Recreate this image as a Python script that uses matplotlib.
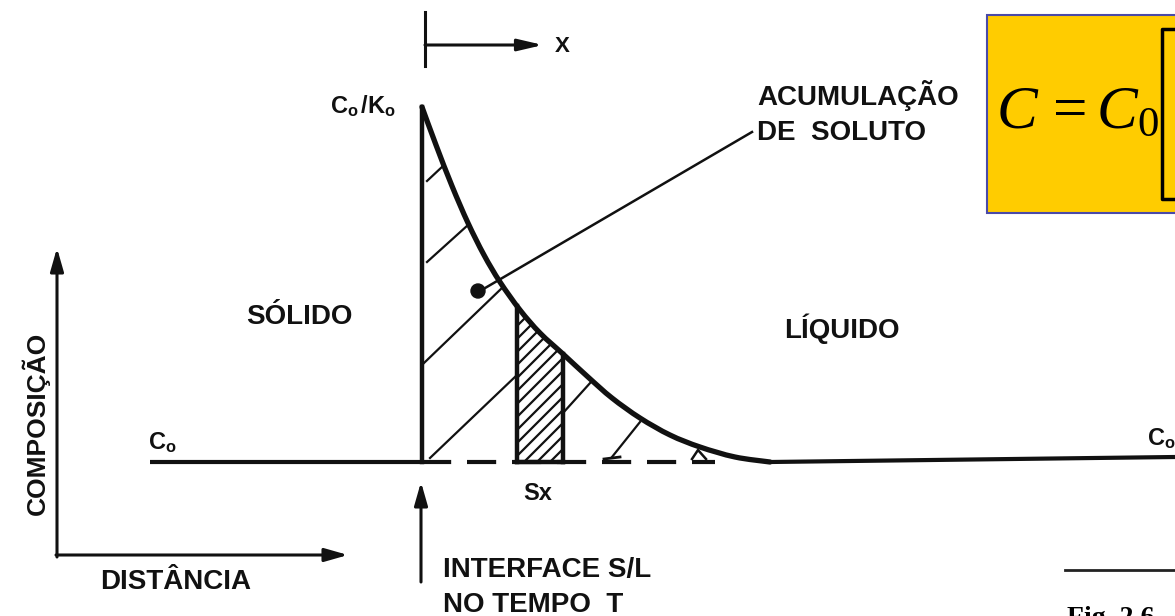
import numpy as np
import matplotlib.pyplot as plt
from matplotlib.patches import Rectangle, Polygon, Circle, PathPatch
from matplotlib.path import Path

plt.rcParams['mathtext.fontset'] = 'custom'
plt.rcParams['mathtext.it'] = 'Liberation Serif:italic'
plt.rcParams['mathtext.rm'] = 'Liberation Serif'
plt.rcParams['mathtext.bf'] = 'Liberation Sans:bold'

# solute profile ahead of the interface (distance, composition), y grows downward
profile_x = [422, 436, 452, 468, 484, 500, 520, 540, 563, 588, 612, 640, 670, 700, 735, 770]
profile_y = [107, 145, 186, 223, 255, 282, 310, 333, 354, 377, 398, 418, 435, 447, 457, 462]

interface_x = 422
c0_level = 462
solid_x = [150, interface_x]
liquid_x = [770, 1175]
liquid_y = [462, 457]
dashed_x = [interface_x, 715]
strip_x = [517, 563]

# sparse hatching of the accumulated solute
hatch_segments = [
    [(427, 181), (443, 166)],
    [(427, 262), (468, 225)],
    [(424, 363), (503, 287)],
    [(430, 458), (517, 375)],
    [(563, 413), (591, 382)],
    [(612, 457), (640, 422)],
]

ink = '#111111'
label_font = dict(family='Liberation Sans', weight='bold', color=ink)


def smooth_path(xs, ys):
    # Catmull-Rom through the points, written as cubic Bezier segments
    pts = np.column_stack([xs, ys]).astype(float)
    verts = [pts[0]]
    codes = [Path.MOVETO]
    for i in range(len(pts) - 1):
        p0 = pts[max(i - 1, 0)]
        p1, p2 = pts[i], pts[i + 1]
        p3 = pts[min(i + 2, len(pts) - 1)]
        verts += [p1 + (p2 - p0) / 6, p2 - (p3 - p1) / 6, p2]
        codes += [Path.CURVE4] * 3
    return Path(verts, codes)


fig = plt.figure(figsize=(11.75, 6.16), dpi=100)
ax = fig.add_axes([0, 0, 1, 1])
ax.set_xlim(0, 1175)
ax.set_ylim(616, 0)
ax.axis('off')

# equation box
ax.add_patch(Rectangle((987, 15), 300, 198, facecolor='#FFCC00',
                       edgecolor='#4a4aa8', lw=1.5, zorder=1))
ax.text(996, 128, r'$C\,= C_0$', fontsize=44, va='baseline', ha='left',
        color='black', zorder=3)
ax.plot([1185, 1162, 1162, 1185], [29, 29, 199, 199], color='black', lw=2.5, zorder=3)

# small composition / distance axes
arrow = dict(arrowstyle='-|>,head_length=1.4,head_width=0.4', lw=2.2,
             color=ink, shrinkA=0, shrinkB=0)
ax.annotate('', xy=(57, 248), xytext=(57, 557), arrowprops=arrow)
ax.annotate('', xy=(348, 555), xytext=(56, 555), arrowprops=arrow)
ax.text(36, 423, 'COMPOSIÇÃO', rotation=90, ha='center', va='center', fontsize=19, **label_font)
ax.text(100, 582, 'DISTÂNCIA', ha='left', va='center', fontsize=20, **label_font)

# solid and liquid levels
ax.plot(solid_x, [c0_level, c0_level], color=ink, lw=3, solid_capstyle='butt')
ax.plot(liquid_x, liquid_y, color=ink, lw=3, solid_capstyle='butt')
ax.plot(dashed_x, [c0_level, c0_level], color=ink, lw=3,
        dashes=(7, 3.8), dash_capstyle='butt')

# interface and profile
ax.plot([interface_x, interface_x], [c0_level, profile_y[0]], color=ink, lw=3.2)
ax.add_patch(PathPatch(smooth_path(profile_x, profile_y), facecolor='none',
                       edgecolor=ink, lw=3.8, capstyle='round', joinstyle='round'))

for (x0, y0), (x1, y1) in hatch_segments:
    ax.plot([x0, x1], [y0, y1], color=ink, lw=1.6)
ax.plot([604, 620], [459, 457], color=ink, lw=2)
ax.plot([692, 698, 706], [459, 450, 459], color=ink, lw=1.8)

# dense strip Sx
sx = np.linspace(strip_x[0], strip_x[1], 20)
sy = np.interp(sx, profile_x, profile_y)
strip_poly = np.column_stack([np.r_[sx, strip_x[1], strip_x[0]],
                              np.r_[sy, c0_level, c0_level]])
clip = Polygon(strip_poly, closed=True, facecolor='none', edgecolor='none')
ax.add_patch(clip)
for off in np.arange(280, 520, 13):
    ln, = ax.plot([strip_x[0], strip_x[1]], [off + 46, off], color=ink, lw=1.6)
    ln.set_clip_path(clip)
ax.plot([strip_x[0], strip_x[0]], [c0_level, sy[0]], color=ink, lw=3.2)
ax.plot([strip_x[1], strip_x[1]], [c0_level, sy[-1]], color=ink, lw=3.2)
ax.plot(strip_x, [c0_level, c0_level], color=ink, lw=3.2)

# leader to label
ax.plot([480, 752], [291, 132], color=ink, lw=1.8)
ax.add_patch(Circle((478, 291), 7, color=ink, zorder=4))

# x direction marker
ax.plot([425, 425], [12, 66], color=ink, lw=2.2)
ax.annotate('', xy=(543, 45), xytext=(425, 45),
            arrowprops=dict(arrowstyle='-|>,head_length=1.5,head_width=0.35', lw=2.2,
                            color=ink, shrinkA=0, shrinkB=0))
ax.text(555, 46, 'X', ha='left', va='center', fontsize=16, **label_font)

# interface pointer
ax.annotate('', xy=(421, 482), xytext=(421, 582), arrowprops=arrow)

# labels
ax.text(330, 113, r'$\mathbf{C_o\,/K_o}$', fontsize=17, ha='left', va='baseline', color=ink)
ax.text(148, 449, r'$\mathbf{C_o}$', fontsize=17, ha='left', va='baseline', color=ink)
ax.text(1147, 445, r'$\mathbf{C_o}$', fontsize=17, ha='left', va='baseline', color=ink)
ax.text(757, 105, 'ACUMULAÇÃO', ha='left', va='baseline', fontsize=20, **label_font)
ax.text(757, 140, 'DE  SOLUTO', ha='left', va='baseline', fontsize=20, **label_font)
ax.text(246, 324, 'SÓLIDO', ha='left', va='baseline', fontsize=20, **label_font)
ax.text(784, 338, 'LÍQUIDO', ha='left', va='baseline', fontsize=20, **label_font)
ax.text(523, 500, 'Sx', ha='left', va='baseline', fontsize=17, **label_font)
ax.text(443, 577, 'INTERFACE S/L', ha='left', va='baseline', fontsize=20, **label_font)
ax.text(443, 612, 'NO TEMPO  T', ha='left', va='baseline', fontsize=20, **label_font)

# caption stub
ax.plot([1065, 1180], [570, 570], color='#222222', lw=2)
ax.text(1067, 606, 'Fig. 2.6', ha='left', va='top', fontsize=20,
        family='Liberation Serif', weight='bold')

fig.savefig('out.png', dpi=100)
